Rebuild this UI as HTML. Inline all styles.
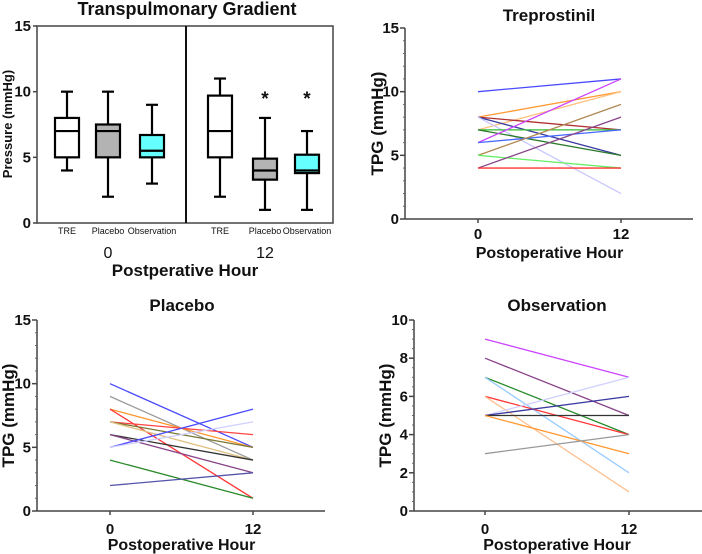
<!DOCTYPE html>
<html><head><meta charset="utf-8"><style>
html,body{margin:0;padding:0;background:#fff;width:702px;height:554px;overflow:hidden}
svg{display:block;font-family:"Liberation Sans",Arial,sans-serif}
</style></head><body>
<svg id="s" width="702" height="554" viewBox="0 0 702 554"></svg>
<script>
// ---- Box plot data (panel A) ----
const boxLabels = ["TRE","Placebo","Observation","TRE","Placebo","Observation"];
const boxMin = [4,2,3,2,1,1];
const boxQ1  = [5,5,5,5,3.3,3.8];
const boxMed = [7,7,5.5,7,4,4];
const boxQ3  = [8,7.5,6.7,9.7,4.9,5.2];
const boxMax = [10,10,9,11,8,7];
const boxFill = ["#fff","#b3b3b3","#66ffff","#fff","#b3b3b3","#66ffff"];
const boxStar = [false,false,false,false,true,true];
const boxCenters = [67,108,152,220,265,307];
// ---- Spaghetti data ----
const treStart = [10,8,7,8,8,8,7,7,6,6,5,5,4,4];
const treEnd   = [11,10,10,7,5,2,7,5,11,7,9,4,8,4];
const treColors= ["#4a4aff","#ff9933","#ffc080","#b03030","#3a3aa0","#c8c8ff","#33bb33","#2a7a2a","#cc44ff","#4a6aff","#b08850","#66ee66","#884488","#ff3333"];
const plaStart = [10,9,8,8,7,7,7,6,6,5,5,4,2];
const plaEnd   = [5,4,5,1,6,5,4,4,3,8,7,1,3];
const plaColors= ["#4a4aff","#999999","#ff9933","#ff3333","#ff4444","#777733","#e0c080","#333333","#884488","#4a4aff","#d0d0ff","#2a8a2a","#5555aa"];
const obsStart = [9,8,7,7,6,6,5,5,5,5,3];
const obsEnd   = [7,5,4,2,4,1,7,6,5,3,4];
const obsColors= ["#cc44ff","#884488","#2a8a2a","#99ccff","#ff3333","#ffc090","#d0d0ff","#3a3aa0","#333333","#ff9933","#999999"];
const timeTicks = ["0","12"];

const NS="http://www.w3.org/2000/svg";
const svg=document.getElementById('s');
function mk(tag,attrs,parent){const e=document.createElementNS(NS,tag);for(const k in attrs)e.setAttribute(k,attrs[k]);(parent||svg).appendChild(e);return e;}
function txt(x,y,s,size,anchor,weight,parent,rot){const t=mk('text',{x:x,y:y,'font-size':size,'text-anchor':anchor||'middle','font-weight':weight||'normal',fill:'#111'},parent);if(rot)t.setAttribute('transform','rotate(-90 '+x+' '+y+')');t.textContent=s;return t;}

// ---- Panel A ----
(function(){
  const g=mk('g',{});
  
  
  const y0=223,y1=26,ymax=15;
  const Y=v=>y0-(v/ymax)*(y0-y1);
  const t=txt(187,15,"Transpulmonary Gradient",18,'middle','bold',g);
  
  
  mk('rect',{x:37,y:y1,width:296,height:y0-y1,fill:'none',stroke:'#444','stroke-width':1.5},g);
  mk('line',{x1:186,y1:y1,x2:186,y2:y0,stroke:'#111','stroke-width':2},g);
  [0,5,10,15].forEach(v=>{mk('line',{x1:33,x2:37,y1:Y(v),y2:Y(v),stroke:'#444','stroke-width':1.5},g);txt(31,Y(v)+5,String(v),15,'end','bold',g);});
  const yl=txt(12,124,"Pressure (mmHg)",13,'middle','bold',g,true);
  
  
  for(let i=0;i<boxLabels.length;i++){
    const c=boxCenters[i],hw=12;
    const b=mk('g',{},g);
    
    
    const sw=2.2;
    mk('line',{x1:c,x2:c,y1:Y(boxMax[i]),y2:Y(boxQ3[i]),stroke:'#000','stroke-width':sw},b);
    mk('line',{x1:c,x2:c,y1:Y(boxQ1[i]),y2:Y(boxMin[i]),stroke:'#000','stroke-width':sw},b);
    mk('line',{x1:c-6,x2:c+6,y1:Y(boxMax[i]),y2:Y(boxMax[i]),stroke:'#000','stroke-width':sw},b);
    mk('line',{x1:c-6,x2:c+6,y1:Y(boxMin[i]),y2:Y(boxMin[i]),stroke:'#000','stroke-width':sw},b);
    mk('rect',{x:c-hw,y:Y(boxQ3[i]),width:2*hw,height:Y(boxQ1[i])-Y(boxQ3[i]),fill:boxFill[i],stroke:'#000','stroke-width':sw},b);
    mk('line',{x1:c-hw,x2:c+hw,y1:Y(boxMed[i]),y2:Y(boxMed[i]),stroke:'#000','stroke-width':sw},b);
    if(boxStar[i])txt(c,Y(9.3)+4,"*",19,'middle','bold',b);
    txt(c,234,boxLabels[i],9,'middle','normal',g);
  }
  txt(108,258,"0",16,'middle','normal',g);
  txt(265,258,"12",16,'middle','normal',g);
  const xl=txt(185,276,"Postperative Hour",17,'middle','bold',g);
  
  
})();

function spaghetti(name,title,ax,y1,y0,xEnd,x0p,x12p,ymax,step,minor,starts,ends,colors,titleX,titleY,tickY,xlY,ylX){
  const g=mk('g',{});
  
  
  const Y=v=>y0-(v/ymax)*(y0-y1);
  const X=t=>x0p+(t/12)*(x12p-x0p);
  const tt=txt(titleX,titleY,title,17,'middle','bold',g);
  
  
  mk('line',{x1:ax,x2:ax,y1:y1,y2:y0,stroke:'#444','stroke-width':1.5},g);
  mk('line',{x1:ax,x2:xEnd,y1:y0,y2:y0,stroke:'#444','stroke-width':1.5},g);
  for(let v=0;v<=ymax;v+=minor){mk('line',{x1:ax-2,x2:ax,y1:Y(v),y2:Y(v),stroke:'#666','stroke-width':1},g);}
  for(let v=0;v<=ymax;v+=step){mk('line',{x1:ax-5,x2:ax,y1:Y(v),y2:Y(v),stroke:'#444','stroke-width':1.5},g);txt(ax-6,Y(v)+5,String(v),15,'end','bold',g);}
  [0,12].forEach((t,i)=>{mk('line',{x1:X(t),x2:X(t),y1:y0,y2:y0+4,stroke:'#444','stroke-width':1.5},g);txt(X(t),tickY,timeTicks[i],15,'middle','bold',g);});
  const xl=txt((x0p+x12p)/2,xlY,"Postoperative Hour",16,'middle','bold',g);
  
  
  const yl=txt(ylX,(y0+y1)/2,"TPG (mmHg)",17,'middle','bold',g,true);
  
  
  for(let i=0;i<starts.length;i++){
    const l=mk('line',{x1:X(0),y1:Y(starts[i]),x2:X(12),y2:Y(ends[i]),stroke:colors[i],'stroke-width':1.3},g);
    
    
  }
}
spaghetti('treprostinil','Treprostinil',405,28,219,693,478,621,15,5,1,treStart,treEnd,treColors,549,21,239,258,383);
spaghetti('placebo','Placebo',37,320,511,325,110,253,15,5,1,plaStart,plaEnd,plaColors,182,311,534,550,14);
spaghetti('observation','Observation',414,320,511,702,485,629,10,2,0.5,obsStart,obsEnd,obsColors,557,311,534,550,391);
</script>
</body></html>
